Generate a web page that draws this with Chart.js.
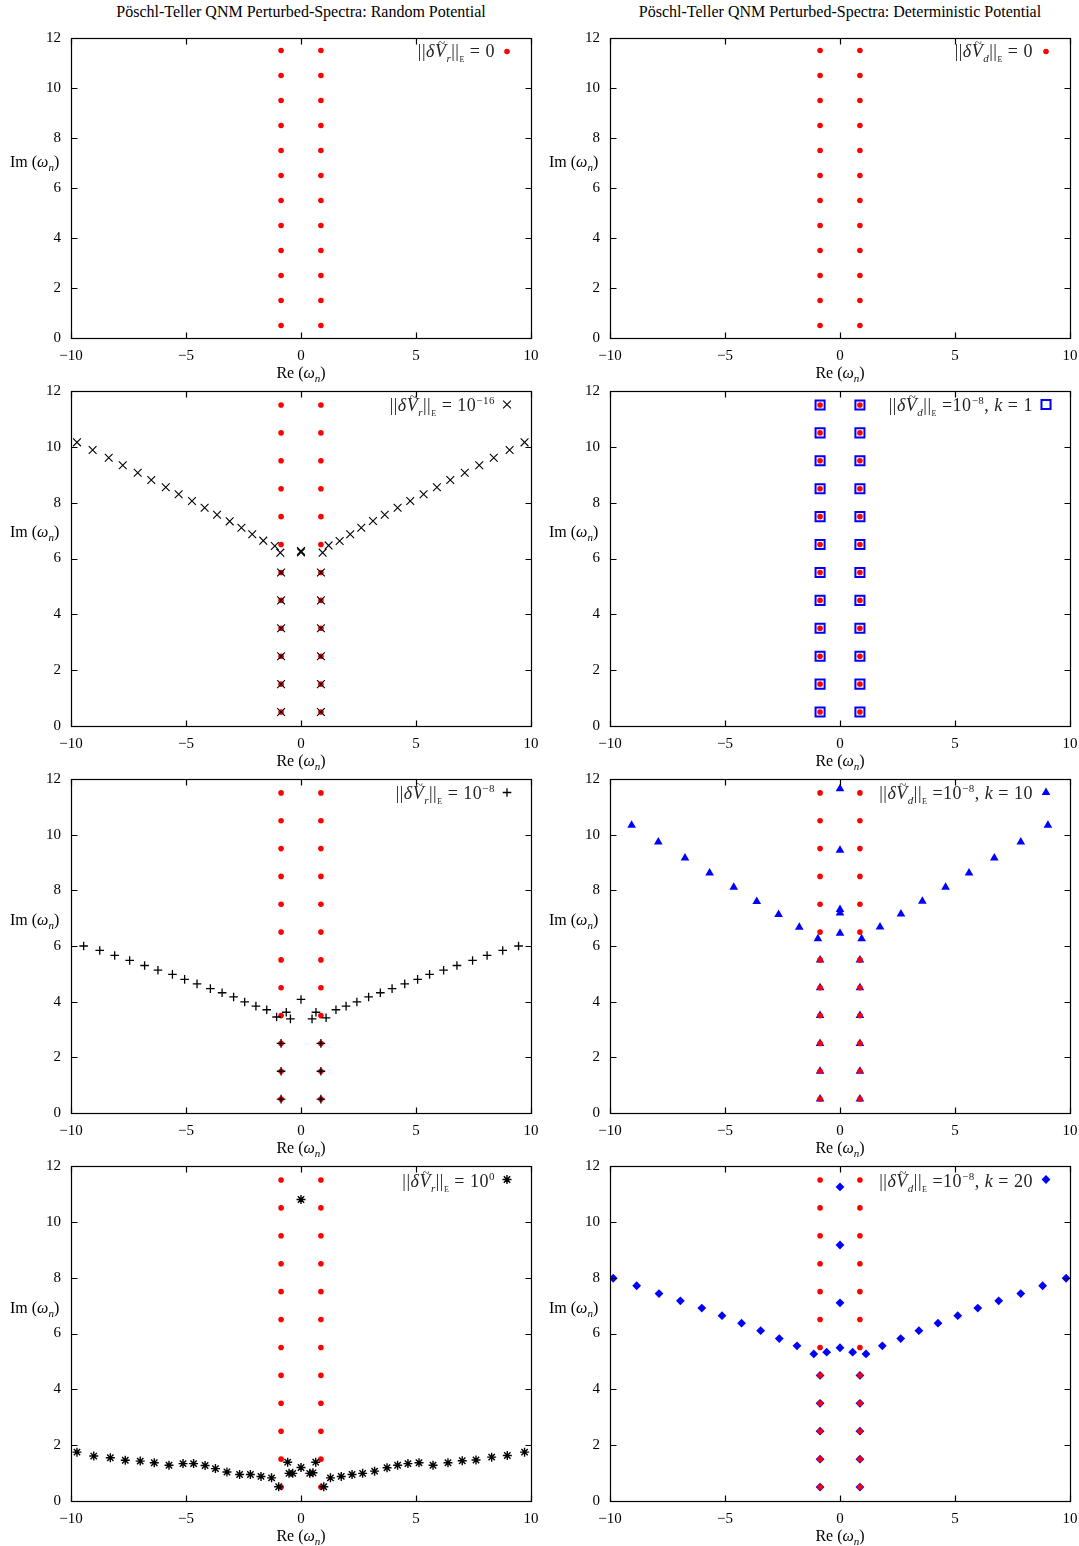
<!DOCTYPE html>
<html>
<head>
<meta charset="utf-8">
<script src="https://cdn.jsdelivr.net/npm/chart.js@4.4.1/dist/chart.umd.min.js"></script>
<style>
  body { margin: 0; background: #fff; font-family: "Liberation Serif", "DejaVu Serif", serif; }
  #page { position: relative; width: 1079px; height: 1546px; overflow: hidden; }
  canvas { position: absolute; }
  .t { position: absolute; white-space: nowrap; color: #000; font-size: 16px; line-height: 18px; }
  .c { text-align: center; }
  .lg { text-align: right; color: #222; font-size: 18px; letter-spacing: 0.5px; }
  sub, sup { font-size: 11px; line-height: 0; }
  sub.E { font-size: 8px; }
  .tv { position: relative; display: inline-block; }
  .tl { position: absolute; left: 3px; top: -8px; font-size: 13px; font-style: normal; }
</style>
</head>
<body>
<div id="page"></div>
<script>
// unperturbed Pöschl-Teller QNMs
const baseRe = [-0.866, 0.866];
const baseIm = [0.5, 1.5, 2.5, 3.5, 4.5, 5.5, 6.5, 7.5, 8.5, 9.5, 10.5, 11.5];

// random potential, ||dV|| = 1e-16 (branch off the axis)
const r16Re = [-9.74, -9.06, -8.36, -7.75, -7.10, -6.51, -5.88, -5.32, -4.74, -4.19, -3.65, -3.10, -2.59, -2.12, -1.64, -1.14, -0.90,
  0, 0, 0.94, 1.20, 1.68, 2.14, 2.62, 3.13, 3.64, 4.20, 4.75, 5.33, 5.91, 6.49, 7.12, 7.75, 8.38, 9.07, 9.72];
const r16Im = [10.16, 9.89, 9.61, 9.34, 9.07, 8.81, 8.55, 8.30, 8.06, 7.82, 7.57, 7.33, 7.10, 6.87, 6.64, 6.45, 6.21,
  6.22, 6.27, 6.21, 6.47, 6.63, 6.87, 7.10, 7.34, 7.57, 7.82, 8.06, 8.30, 8.55, 8.81, 9.07, 9.34, 9.61, 9.89, 10.16];
const r16Kept = 6;   // lowest overtones that stay on the unperturbed values

// random potential, ||dV|| = 1e-8
const r8Re = [-9.45, -8.75, -8.10, -7.45, -6.80, -6.22, -5.59, -5.06, -4.52, -3.94, -3.43, -2.93, -2.45, -1.96, -1.49, -1.06, -0.64, -0.46,
  0, 0.48, 0.65, 1.09, 1.52, 1.96, 2.43, 2.94, 3.45, 3.96, 4.51, 5.07, 5.59, 6.20, 6.78, 7.46, 8.09, 8.77, 9.46];
const r8Im = [6.00, 5.84, 5.66, 5.48, 5.30, 5.13, 4.98, 4.80, 4.64, 4.47, 4.32, 4.17, 3.99, 3.84, 3.71, 3.45, 3.62, 3.38,
  4.08, 3.38, 3.62, 3.42, 3.71, 3.84, 3.99, 4.17, 4.32, 4.47, 4.64, 4.80, 4.98, 5.13, 5.30, 5.48, 5.66, 5.84, 6.00];
const r8Kept = 3;

// random potential, ||dV|| = 1
const r0Re = [-9.74, -9.01, -8.29, -7.64, -6.99, -6.38, -5.74, -5.13, -4.67, -4.17, -3.72, -3.22, -2.67, -2.20, -1.74, -1.28, -0.97,
  -0.58, -0.52, -0.36, 0, 0.38, 0.52, 0.64, 0.99, 1.28, 1.75, 2.22, 2.68, 3.20, 3.74, 4.20, 4.65, 5.13, 5.74, 6.39, 7.01, 7.61,
  8.29, 8.97, 9.72, 0];
const r0Im = [1.75, 1.61, 1.55, 1.46, 1.43, 1.37, 1.28, 1.34, 1.34, 1.27, 1.16, 1.04, 0.95, 0.95, 0.88, 0.83, 0.51,
  1.39, 0.99, 0.99, 1.20, 0.99, 1.01, 1.39, 0.51, 0.83, 0.88, 0.95, 0.99, 1.07, 1.19, 1.28, 1.34, 1.37, 1.28, 1.37, 1.44, 1.47,
  1.57, 1.63, 1.75, 10.80];

// deterministic potential, k = 1: all overtones stay put
const d1Kept = 12;

// deterministic potential, k = 10
const d10Re = [-9.06, -7.90, -6.74, -5.67, -4.62, -3.62, -2.67, -1.77, -0.96, 0, 0, 0, 0, 0, 0.94, 1.74, 2.65, 3.58, 4.59, 5.61, 6.71, 7.86, 9.04];
const d10Im = [10.34, 9.74, 9.16, 8.62, 8.11, 7.60, 7.13, 6.67, 6.26, 11.65, 9.44, 7.31, 7.19, 6.46, 6.26, 6.68, 7.15, 7.61, 8.11, 8.62, 9.16, 9.74, 10.34];
const d10Kept = 6;

// deterministic potential, k = 20
const d20Re = [-9.86, -8.84, -7.87, -6.94, -6.01, -5.13, -4.28, -3.45, -2.64, -1.87, -1.14, -0.58, 0, 0.55, 1.13, 1.84, 2.64, 3.43,
  4.26, 5.12, 5.99, 6.90, 7.86, 8.81, 9.83, 0, 0, 0];
const d20Im = [7.98, 7.71, 7.43, 7.17, 6.91, 6.64, 6.37, 6.10, 5.82, 5.56, 5.27, 5.33, 5.49, 5.33, 5.27, 5.56, 5.82, 6.10,
  6.37, 6.64, 6.91, 7.17, 7.43, 7.71, 7.98, 11.25, 9.17, 7.10];
const d20Kept = 5;

const xTicks = [-10, -5, 0, 5, 10];
const yTicks = [0, 2, 4, 6, 8, 10, 12];

const FONT = '"Liberation Serif", "DejaVu Serif", serif';

function pairs(re, im) {
  return re.map((r, i) => ({ x: r, y: im[i] }));
}
function kept(n) {
  const out = [];
  baseIm.slice(0, n).forEach(im => baseRe.forEach(re => out.push({ x: re, y: im })));
  return out;
}
const unpert = kept(baseIm.length);

const redStyle = { pointStyle: 'circle', pointRadius: 2.8, backgroundColor: '#ff0000', borderColor: '#ff0000', borderWidth: 0 };
const styles = {
  cross: { pointStyle: 'crossRot', pointRadius: 5.5, backgroundColor: '#000', borderColor: '#000', borderWidth: 1.1 },
  plus: { pointStyle: 'cross', pointRadius: 4.3, backgroundColor: '#000', borderColor: '#000', borderWidth: 1.3 },
  star: { pointStyle: 'star', pointRadius: 4.5, backgroundColor: '#000', borderColor: '#000', borderWidth: 1.4 },
  square: { pointStyle: 'rect', pointRadius: 6.4, backgroundColor: 'rgba(0,0,0,0)', borderColor: '#0000ff', borderWidth: 2 },
  tri: { pointStyle: 'triangle', pointRadius: 5, backgroundColor: '#0000ff', borderColor: '#0000ff', borderWidth: 0 },
  diamond: { pointStyle: 'rectRot', pointRadius: 4.4, backgroundColor: '#0000ff', borderColor: '#0000ff', borderWidth: 0 }
};

const framePlugin = {
  id: 'frame',
  afterDatasetsDraw(chart, args, opts) {
    const { ctx, chartArea: a, scales: { x, y } } = chart;
    ctx.save();
    ctx.strokeStyle = '#000';
    ctx.lineWidth = 1.2;
    const L = Math.round(a.left) + 0.5, R = Math.round(a.right) + 0.5;
    const T = Math.round(a.top) + 0.5, B = Math.round(a.bottom) + 0.5;
    ctx.strokeRect(L, T, R - L, B - T);
    ctx.beginPath();
    x.ticks.forEach(t => {
      const px = Math.round(x.getPixelForValue(t.value)) + 0.5;
      ctx.moveTo(px, B); ctx.lineTo(px, B - 6);
      ctx.moveTo(px, T); ctx.lineTo(px, T + 6);
    });
    y.ticks.forEach(t => {
      const py = Math.round(y.getPixelForValue(t.value)) + 0.5;
      ctx.moveTo(L, py); ctx.lineTo(L + 6, py);
      ctx.moveTo(R, py); ctx.lineTo(R - 6, py);
    });
    ctx.stroke();
    // legend sample
    const ds = chart.data.datasets[opts.legendIdx];
    if (ds && Chart.helpers && Chart.helpers.drawPoint) {
      ctx.fillStyle = ds.backgroundColor;
      ctx.strokeStyle = ds.borderColor;
      ctx.lineWidth = ds.borderWidth;
      Chart.helpers.drawPoint(ctx, { pointStyle: ds.pointStyle, radius: ds.pointRadius, rotation: 0, borderWidth: ds.borderWidth },
        a.right - 24, a.top + 13.5);
    }
    ctx.restore();
  }
};

const page = document.getElementById('page');

function addText(html, cls, style) {
  const d = document.createElement('div');
  d.className = 't ' + cls;
  d.innerHTML = html;
  Object.assign(d.style, style);
  page.appendChild(d);
}

function makeChart(box, datasets, legendIdx) {
  const cv = document.createElement('canvas');
  cv.width = box.w; cv.height = box.h;
  cv.style.left = box.left + 'px'; cv.style.top = box.top + 'px';
  cv.style.width = box.w + 'px'; cv.style.height = box.h + 'px';
  page.appendChild(cv);
  const tickFont = { family: FONT, size: 15 };
  return new Chart(cv, {
    type: 'scatter',
    data: { datasets: datasets.map(d => Object.assign({ showLine: false, pointHoverRadius: d.pointRadius }, d)) },
    options: {
      responsive: false, animation: false, devicePixelRatio: 1,
      layout: { padding: { left: 0, right: 9, top: 20, bottom: 0 } },
      events: [],
      plugins: { legend: { display: false }, tooltip: { enabled: false }, frame: { legendIdx } },
      scales: {
        x: {
          type: 'linear', min: -10, max: 10,
          afterFit(s) { s.height = 30; s.paddingLeft = 0; s.paddingRight = 0; },
          afterBuildTicks(s) { s.ticks = xTicks.map(v => ({ value: v })); },
          grid: { display: false, drawTicks: false }, border: { display: false },
          ticks: { padding: 9, color: '#000', font: tickFont, maxRotation: 0, autoSkip: false,
            callback: v => (v < 0 ? '\u2212' + Math.abs(v) : String(v)) }
        },
        y: {
          type: 'linear', min: 0, max: 12,
          afterFit(s) { s.width = box.axisW; s.paddingTop = 0; s.paddingBottom = 0; },
          afterBuildTicks(s) { s.ticks = yTicks.map(v => ({ value: v })); },
          grid: { display: false, drawTicks: false }, border: { display: false },
          ticks: { padding: 10, color: '#000', font: tickFont, autoSkip: false }
        }
      }
    },
    plugins: [framePlugin]
  });
}

const cols = [
  { left: 0, w: 540, axisW: 71, cx: 301, labX: 10, legR: 495,
    title: 'Pöschl-Teller QNM Perturbed-Spectra: Random Potential' },
  { left: 540, w: 539, axisW: 70, cx: 840, labX: 549, legR: 1033,
    title: 'Pöschl-Teller QNM Perturbed-Spectra: Deterministic Potential' }
];
const rows = [
  { top: 18, h: 350, imY: 162, reY: 373, legY: 51 },
  { top: 371, h: 385, imY: 532, reY: 761, legY: 405 },
  { top: 759, h: 384, imY: 920, reY: 1148, legY: 793 },
  { top: 1146, h: 385, imY: 1308, reY: 1536, legY: 1181 }
];

const red = Object.assign({ data: unpert }, redStyle);

function norm(s) {
  return '||<i>\u03b4</i><span class="tv"><i>V</i><span class="tl">~</span></span><sub><i>' + s + '</i></sub>||<sub class="E">E</sub>';
}

// panels: [col][row]
const panels = [
  [
    { ds: [red], leg: 0, text: norm('r') + ' = 0' },
    { ds: [Object.assign({ data: pairs(r16Re, r16Im).concat(kept(r16Kept)) }, styles.cross), red], leg: 0,
      text: norm('r') + ' = 10<sup>\u221216</sup>' },
    { ds: [Object.assign({ data: pairs(r8Re, r8Im).concat(kept(r8Kept)) }, styles.plus), red], leg: 0,
      text: norm('r') + ' = 10<sup>\u22128</sup>' },
    { ds: [Object.assign({ data: pairs(r0Re, r0Im) }, styles.star), red], leg: 0,
      text: norm('r') + ' = 10<sup>0</sup>' }
  ],
  [
    { ds: [red], leg: 0, text: norm('d') + ' = 0' },
    { ds: [red, Object.assign({ data: kept(d1Kept) }, styles.square)], leg: 1,
      text: norm('d') + ' =10<sup>\u22128</sup>, <i>k</i> = 1' },
    { ds: [red, Object.assign({ data: pairs(d10Re, d10Im).concat(kept(d10Kept)) }, styles.tri)], leg: 1,
      text: norm('d') + ' =10<sup>\u22128</sup>, <i>k</i> = 10' },
    { ds: [red, Object.assign({ data: pairs(d20Re, d20Im).concat(kept(d20Kept)) }, styles.diamond)], leg: 1,
      text: norm('d') + ' =10<sup>\u22128</sup>, <i>k</i> = 20' }
  ]
];

cols.forEach((c, ci) => {
  addText(c.title, 'c', { left: (c.cx - 300) + 'px', width: '600px', top: '3px' });
  rows.forEach((r, ri) => {
    const p = panels[ci][ri];
    makeChart({ left: c.left, top: r.top, w: c.w, h: r.h, axisW: c.axisW }, p.ds, p.leg);
    addText('Im (<i>\u03c9</i><sub><i>n</i></sub>)', '', { left: c.labX + 'px', top: (r.imY - 9) + 'px' });
    addText('Re (<i>\u03c9</i><sub><i>n</i></sub>)', 'c', { left: (c.cx - 100) + 'px', width: '200px', top: (r.reY - 9) + 'px' });
    addText(p.text, 'lg', { left: '0px', width: c.legR + 'px', top: (r.legY - 9) + 'px' });
  });
});
</script>
</body>
</html>
